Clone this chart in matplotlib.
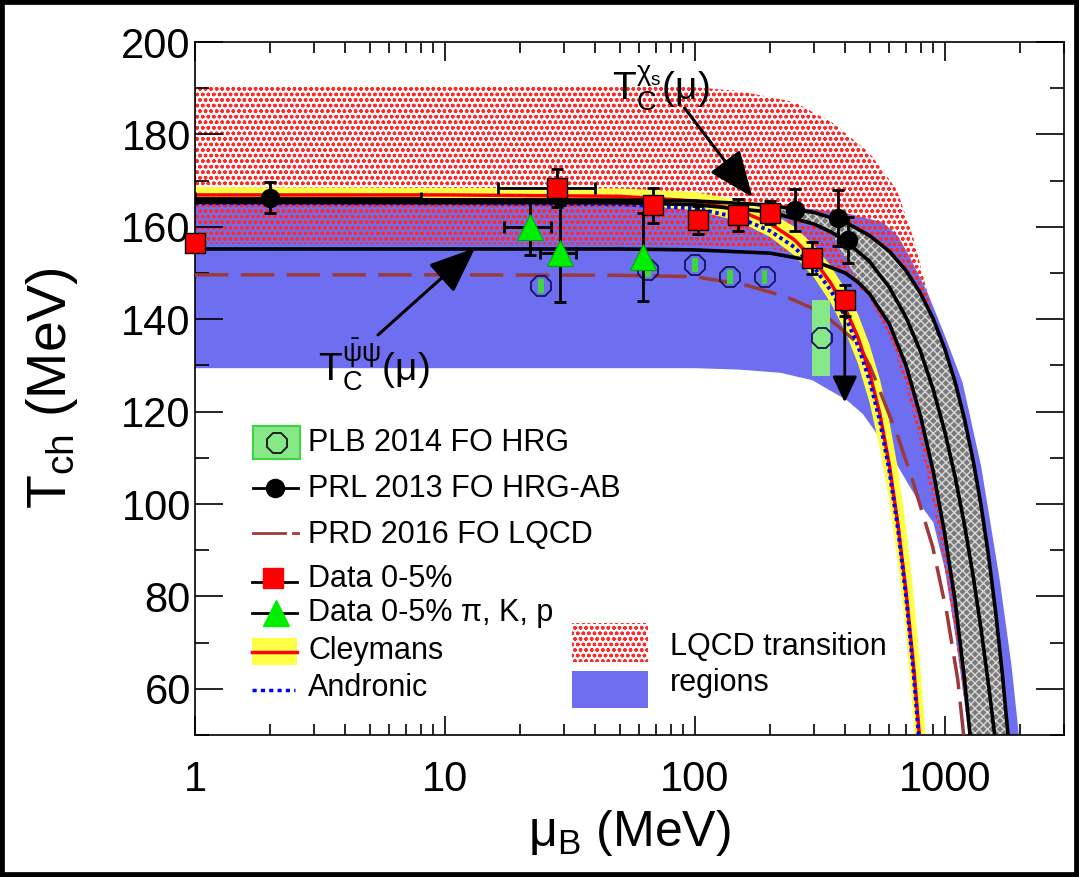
import numpy as np
import matplotlib
matplotlib.use("Agg")
import matplotlib.pyplot as plt
from matplotlib.patches import Rectangle
from matplotlib.ticker import LogLocator, NullFormatter, MultipleLocator, FixedLocator

plt.rcParams['font.family'] = ['Liberation Sans', 'DejaVu Sans']
plt.rcParams['mathtext.fontset'] = 'custom'
plt.rcParams['mathtext.rm'] = 'Liberation Sans'
plt.rcParams['mathtext.it'] = 'Liberation Sans'
plt.rcParams['mathtext.bf'] = 'Liberation Sans:bold'
plt.rcParams['mathtext.default'] = 'regular'
plt.rcParams['lines.scale_dashes'] = False
plt.rcParams['hatch.linewidth'] = 1.0

# ---------------- data ----------------
# LQCD chi_s transition region (red)
red_up_mu = [1, 50, 100, 150, 250, 356, 500, 643, 750, 847, 1019, 1200, 1400, 1600]
red_up_T = [190.5, 190.5, 190.2, 189.4, 187.0, 182.5, 176.0, 168.0, 157.5, 146.3, 127.5, 105.0, 75.0, 42.0]
red_lo_mu = [1, 100, 200, 300, 400, 500, 600, 700, 800, 900, 1000, 1100, 1200, 1260, 1300]
red_lo_T = [156.3, 156.1, 155.3, 153.4, 150.0, 144.5, 136.5, 125.5, 113.0, 100.0, 86.0, 72.0, 57.0, 48.0, 42.0]

# LQCD chiral condensate transition region (blue)
blue_up_mu = [1, 100, 200, 300, 400, 565, 650, 724, 850, 1000, 1180, 1400, 1660, 1850, 1970, 2050]
blue_up_T = [165.0, 164.9, 164.5, 163.8, 163.0, 161.0, 158.0, 153.5, 146.0, 136.5, 126.2, 108.0, 83.5, 65.0, 51.0, 42.0]
blue_lo_mu = [1, 100, 150, 220, 295, 405, 470, 530, 620, 720, 820, 900, 1000, 1100, 1200, 1260, 1300]
blue_lo_T = [129.4, 129.4, 129.1, 128.4, 126.8, 122.5, 119.5, 115.5, 110.0, 104.0, 99.0, 96.0, 86.0, 72.0, 57.0, 48.0, 42.0]

# transition lines and PRL 2013 band edges
chis_mu = [1, 50, 100, 200, 300, 400, 500, 600, 700, 800, 900, 1000, 1100, 1200, 1300, 1400, 1500, 1600, 1700, 1800, 1850]
chis_T = [165.9, 165.8, 165.6, 164.7, 163.1, 161.0, 158.1, 154.7, 150.5, 145.6, 140.0, 133.6, 126.4, 118.3,
          109.3, 99.4, 88.4, 76.4, 63.2, 48.8, 41.0]
mid_mu = [1, 50, 100, 200, 300, 350, 400, 500, 600, 700, 800, 900, 1000, 1100, 1200, 1300, 1400, 1500, 1600, 1650]
mid_T = [165.3, 165.2, 164.8, 163.2, 160.6, 158.9, 157.0, 152.5, 146.9, 140.4, 133.0, 124.7, 115.7, 105.9,
         95.4, 84.3, 72.6, 60.5, 47.9, 41.0]
pbp_mu = [1, 50, 100, 200, 300, 400, 450, 500, 600, 700, 800, 900, 1000, 1100, 1200, 1260, 1290]
pbp_T = [155.2, 155.2, 155.0, 154.3, 152.6, 150.0, 148.0, 145.5, 139.0, 130.0, 119.0, 107.0, 93.5, 79.0,
         62.0, 50.5, 44.0]

# Cleymans parametrisation and its band
cley_mu = [1, 10, 50, 100, 150, 200, 250, 300, 350, 400, 450, 500, 550, 600, 650, 700, 750, 800, 820]
cley_T = [166.9, 166.9, 166.6, 165.6, 163.6, 160.7, 157.2, 152.8, 147.8, 142.3, 136.0, 128.5, 119.5, 108.5,
          95.5, 81.0, 65.0, 47.0, 40.0]
cley_hi_mu = [1, 50, 100, 150, 200, 250, 300, 350, 400, 450, 500, 550, 600, 650, 700, 750, 800, 850, 870]
cley_hi_T = [168.6, 168.3, 167.5, 165.8, 163.2, 160.0, 156.0, 151.5, 146.5, 141.0, 134.5, 127.0, 118.0,
             107.5, 95.0, 80.5, 64.0, 45.0, 38.0]
cley_lo_mu = [1, 50, 100, 150, 200, 250, 300, 350, 400, 450, 500, 550, 600, 650, 700, 750, 775, 790]
cley_lo_T = [165.3, 165.0, 163.6, 161.2, 157.8, 153.8, 149.0, 143.5, 137.3, 130.3, 122.0, 112.0, 100.5,
             87.0, 71.5, 53.0, 43.0, 37.0]

# Andronic parametrisation
andr_mu = [1, 10, 50, 100, 150, 200, 250, 300, 350, 400, 450, 500, 550, 600, 650, 700, 750, 800, 815]
andr_T = [165.1, 165.1, 164.9, 164.0, 162.0, 159.1, 155.6, 151.2, 146.2, 140.6, 134.2, 126.8, 118.0,
          107.2, 94.5, 80.0, 63.5, 45.0, 40.0]

# PRD 2016 FO LQCD
prd_mu = [1, 10, 50, 100, 160, 233, 295, 350, 445, 500, 550, 650, 745, 895, 1019, 1127, 1181, 1230]
prd_T = [149.6, 149.6, 149.5, 149.2, 147.4, 144.8, 142.4, 139.8, 135.0, 130.0, 124.5, 114.5, 105.0, 90.7,
         76.4, 62.0, 51.7, 42.0]

# PLB 2014 FO HRG points
plb_mu = [24.2, 64.9, 100.0, 138.0, 190.0, 322.0]
plb_T = [147.2, 150.7, 151.7, 149.1, 149.1, 135.9]
plb_Terr = [1.5, 1.5, 1.5, 1.5, 1.5, 8.2]
plb_mu_lo = [23.6, 63.3, 97.5, 134.5, 185.0, 295.0]
plb_mu_hi = [24.8, 66.5, 102.5, 141.5, 195.0, 347.0]

# PRL 2013 FO HRG-AB points
prl_mu = [2.0, 251.0, 373.0, 409.0]
prl_T = [166.3, 163.6, 161.9, 157.1]
prl_Terr = [3.3, 4.5, 6.0, 5.0]
prl_mu_err_lo = [1.0, 0.0, 0.0, 0.0]
prl_mu_err_hi = [6.0, 0.0, 0.0, 0.0]

# Data 0-5%
sq_mu = [1.0, 28.1, 67.9, 102.8, 148.6, 199.5, 293.8, 398.0]
sq_T = [156.5, 168.4, 164.7, 161.5, 162.5, 163.0, 153.2, 144.1]
sq_Terr = [1.0, 4.2, 3.8, 3.0, 3.5, 2.5, 3.5, 3.3]
sq_mu_err = [0.0, 11.8, 0.0, 0.0, 0.0, 0.0, 0.0, 0.0]
sq_limit_T = 122.0  # lower end of the downward arrow on the last point

# Data 0-5% pi, K, p
tri_mu = [21.9, 28.8, 61.9]
tri_T = [160.0, 154.3, 153.5]
tri_Terr = [6.0, 10.5, 9.5]
tri_mu_err = [4.7, 4.8, 0.0]

# arrows for the transition-line labels: (tail mu, tail T, tip mu, tip T)
chis_arrow = (91.0, 185.7, 170.0, 166.4)
pbp_arrow = (5.4, 136.6, 13.2, 155.4)

# ---------------- figure ----------------
W, H = 1079, 877
fig = plt.figure(figsize=(W / 100, H / 100), dpi=100)
L_PX, R_PX, T_PX, B_PX = 195, 1064, 42, 735
ax = fig.add_axes([L_PX / W, 1 - B_PX / H, (R_PX - L_PX) / W, (B_PX - T_PX) / H])
ax.set_xscale('log')
ax.set_xlim(1, 3000)
ax.set_ylim(50, 200)


def band(mu_up, T_up, mu_lo, T_lo):
    xs = np.concatenate([mu_up, mu_lo[::-1]])
    ys = np.concatenate([T_up, T_lo[::-1]])
    return xs, ys


# blue region
xs, ys = band(blue_up_mu, blue_up_T, blue_lo_mu, blue_lo_T)
ax.fill(xs, ys, facecolor='#6e6ef0', edgecolor='none', lw=0, zorder=1)
# red region (dotted pattern)
xs, ys = band(red_up_mu, red_up_T, red_lo_mu, red_lo_T)
ax.fill(xs, ys, facecolor='none', edgecolor='#ff2a2a', hatch='ooo', lw=0, zorder=1.5)

# grey bands between the black curves
xs, ys = band(chis_mu, chis_T, mid_mu, mid_T)
ax.fill(xs, ys, facecolor='#7a7a7a', edgecolor='#d8d8d8', hatch='xxxx', lw=0, zorder=2)
mid_a = np.array(mid_mu)
pbp_a = np.array(pbp_mu)
m_sel = mid_a >= 350
p_sel = pbp_a >= 450
xs = np.concatenate([mid_a[m_sel], pbp_a[p_sel][::-1]])
ys = np.concatenate([np.array(mid_T)[m_sel], np.array(pbp_T)[p_sel][::-1]])
ax.fill(xs, ys, facecolor='#7a7a7a', edgecolor='#d8d8d8', hatch='xxxx', lw=0, zorder=2)

# Cleymans band
xs, ys = band(cley_hi_mu, cley_hi_T, cley_lo_mu, cley_lo_T)
ax.fill(xs, ys, facecolor='#ffff44', edgecolor='none', lw=0, zorder=2.5)

ax.plot(prd_mu, prd_T, color='#9b3a3a', lw=2.5, dashes=(24, 9), zorder=3)
ax.plot(cley_mu, cley_T, color='#ff0000', lw=2.5, zorder=3.1)
ax.plot(andr_mu, andr_T, color='#0000ff', lw=2.8, dashes=(2.5, 2.5), zorder=3.2)

for mu, T in ((chis_mu, chis_T), (mid_mu, mid_T), (pbp_mu, pbp_T)):
    ax.plot(mu, T, color='black', lw=2.6, zorder=3.3)

# PLB 2014 boxes and markers
for i in range(len(plb_mu)):
    big = plb_Terr[i] > 3
    ax.add_patch(Rectangle((plb_mu_lo[i], plb_T[i] - plb_Terr[i]), plb_mu_hi[i] - plb_mu_lo[i],
                           2 * plb_Terr[i], facecolor='#86e886' if big else '#3dd63d',
                           edgecolor='none', zorder=3.5))
ax.plot(plb_mu, plb_T, ls='none', marker='8', ms=15, mfc='none', mec='#141460', mew=1.3, zorder=3.6)

# PRL 2013 points
ax.errorbar(prl_mu, prl_T, yerr=prl_Terr, xerr=[prl_mu_err_lo, prl_mu_err_hi], fmt='none',
            ecolor='black', elinewidth=2, capsize=4, capthick=2, zorder=4)
ax.plot(prl_mu, prl_T, ls='none', marker='o', ms=13, color='black', zorder=4.1)

# Data 0-5% pi, K, p
ax.errorbar(tri_mu, tri_T, yerr=tri_Terr, xerr=tri_mu_err, fmt='none', ecolor='black',
            elinewidth=2, capsize=4, capthick=2, zorder=4.2)
ax.plot(tri_mu, tri_T, ls='none', marker='^', ms=19, mfc='#00ee00', mec='#00aa00', mew=0.8, zorder=4.3)

# Data 0-5%
ax.errorbar(sq_mu, sq_T, yerr=sq_Terr, xerr=sq_mu_err, fmt='none', ecolor='black',
            elinewidth=2, capsize=4, capthick=2, zorder=4.4, clip_on=False)
ax.annotate('', xy=(sq_mu[-1], sq_limit_T), xytext=(sq_mu[-1], sq_T[-1]),
            arrowprops=dict(arrowstyle='-|>,head_length=0.8,head_width=0.38', mutation_scale=20,
                            lw=2, color='black', shrinkA=0, shrinkB=0), zorder=4.45)
ax.plot(sq_mu, sq_T, ls='none', marker='s', ms=14, mfc='#ff0000', mec='black', mew=1.0,
        zorder=4.5, clip_on=False)

# transition-line labels
ax.annotate('', xy=chis_arrow[2:], xytext=chis_arrow[:2],
            arrowprops=dict(arrowstyle='-|>,head_length=1.1,head_width=0.45', mutation_scale=26,
                            lw=2.2, color='black', shrinkA=0, shrinkB=0), zorder=5)
ax.annotate('', xy=pbp_arrow[2:], xytext=pbp_arrow[:2],
            arrowprops=dict(arrowstyle='-|>,head_length=1.1,head_width=0.45', mutation_scale=26,
                            lw=2.2, color='black', shrinkA=0, shrinkB=0), zorder=5)


def fx(px):
    return (px - L_PX) / (R_PX - L_PX)


def fy(py):
    return (B_PX - py) / (B_PX - T_PX)


ax.text(fx(612), fy(100), r'$T_{C}^{\chi_{s}}(\mu)$', transform=ax.transAxes, fontsize=28,
        ha='left', va='baseline', zorder=6)
ax.text(fx(318), fy(380), r'$T_{C}^{\bar{\psi}\psi}(\mu)$', transform=ax.transAxes, fontsize=28,
        ha='left', va='baseline', zorder=6)

# ---------------- legend ----------------
kw = dict(transform=ax.transAxes, clip_on=False, zorder=7)
tx = fx(308)
lfs = 22
# PLB
ax.add_patch(Rectangle((fx(253), fy(459)), fx(300) - fx(253), fy(426) - fy(459),
                       facecolor='#86e886', edgecolor='#3dd63d', lw=1.5, **kw))
ax.plot([fx(277)], [fy(443)], marker='8', ms=15, mfc='none', mec='#141414', mew=1.3, **kw)
ax.text(tx, fy(443), 'PLB 2014 FO HRG', va='center', fontsize=lfs, **kw)
# PRL
ax.plot([fx(253), fx(298)], [fy(488)] * 2, color='black', lw=2, **kw)
ax.plot([fx(275)], [fy(488)], marker='o', ms=13, color='black', **kw)
ax.text(tx, fy(489), 'PRL 2013 FO HRG-AB', va='center', fontsize=lfs, **kw)
# PRD
ax.plot([fx(253), fx(285)], [fy(533)] * 2, color='#9b3a3a', lw=2, **kw)
ax.plot([fx(293), fx(298)], [fy(533)] * 2, color='#9b3a3a', lw=2, **kw)
ax.text(tx, fy(535), 'PRD 2016 FO LQCD', va='center', fontsize=lfs, **kw)
# Data 0-5%
ax.plot([fx(252), fx(297)], [fy(582)] * 2, color='black', lw=2, **kw)
ax.plot([fx(273)], [fy(578)], marker='s', ms=14, mfc='#ff0000', mec='#ff0000', **kw)
ax.text(tx, fy(579), 'Data 0-5%', va='center', fontsize=lfs, **kw)
# Data 0-5% pi K p
ax.plot([fx(252), fx(297)], [fy(613)] * 2, color='black', lw=2, **kw)
ax.plot([fx(276)], [fy(613)], marker='^', ms=19, mfc='#00ee00', mec='#00ee00', **kw)
ax.text(tx, fy(613), 'Data 0-5% π, K, p', va='center', fontsize=lfs, **kw)
# Cleymans
ax.add_patch(Rectangle((fx(252), fy(665)), fx(297) - fx(252), fy(638) - fy(665),
                       facecolor='#ffff44', edgecolor='none', **kw))
ax.plot([fx(252), fx(297)], [fy(652)] * 2, color='#ff0000', lw=2.5, **kw)
ax.text(tx, fy(651), 'Cleymans', va='center', fontsize=lfs, **kw)
# Andronic
ax.plot([fx(252), fx(295)], [fy(690)] * 2, color='#0000ff', lw=2.5, dashes=(3, 3), **kw)
ax.text(tx, fy(688), 'Andronic', va='center', fontsize=lfs, **kw)
# LQCD regions
ax.add_patch(Rectangle((fx(572), fy(662)), fx(648) - fx(572), fy(623) - fy(662),
                       facecolor='none', edgecolor='#ff2a2a', hatch='ooo', lw=0, **kw))
ax.add_patch(Rectangle((fx(572), fy(708)), fx(648) - fx(572), fy(671) - fy(708),
                       facecolor='#6e6ef0', edgecolor='none', lw=0, **kw))
ax.text(fx(670), fy(647), 'LQCD transition', va='center', fontsize=lfs, **kw)
ax.text(fx(670), fy(683), 'regions', va='center', fontsize=lfs, **kw)

# ---------------- axes ----------------
ax.xaxis.set_major_locator(FixedLocator([1, 10, 100, 1000]))
ax.set_xticklabels(['1', '10', '100', '1000'])
ax.xaxis.set_minor_locator(LogLocator(base=10, subs=np.arange(2, 10)))
ax.xaxis.set_minor_formatter(NullFormatter())
ax.yaxis.set_major_locator(FixedLocator([60, 80, 100, 120, 140, 160, 180, 200]))
ax.yaxis.set_minor_locator(MultipleLocator(10))
ax.tick_params(axis='both', which='both', direction='in', top=True, right=True, width=1.2,
               labelsize=30)
ax.tick_params(axis='y', which='major', length=20, pad=3)
ax.tick_params(axis='y', which='minor', length=10)
ax.tick_params(axis='x', which='major', length=14, pad=18)
ax.tick_params(axis='x', which='minor', length=8)
for s in ax.spines.values():
    s.set_linewidth(1.2)

ax.set_xlabel(r'$\mu_{B}$ (MeV)', fontsize=36)
ax.set_ylabel(r'T$_{ch}$ (MeV)', fontsize=40)
ax.xaxis.set_label_coords(0.5, fy(808))
ax.yaxis.set_label_coords(fx(80), 0.5)

# canvas frame
fig.add_artist(Rectangle((0, 0), 1, 1, transform=fig.transFigure, fill=False, lw=7, ec='black'))

fig.savefig('out.png', dpi=100)
